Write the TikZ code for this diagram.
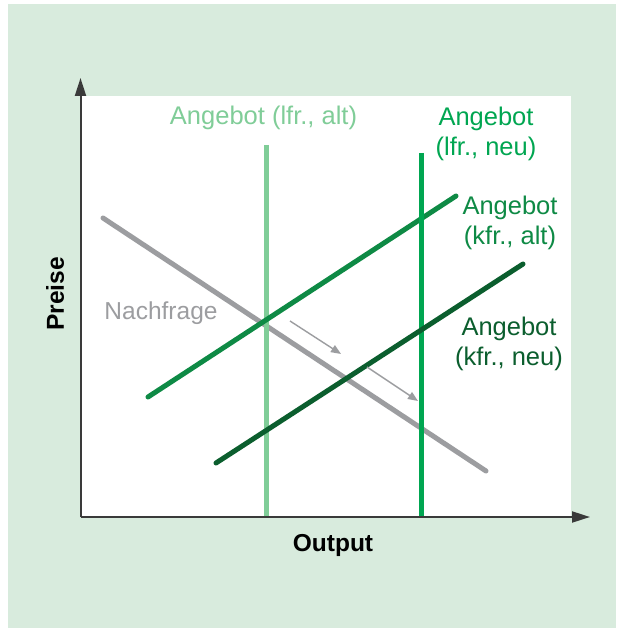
\documentclass[tikz,border=0pt]{standalone}
\usepackage{fontspec}
\setmainfont{Liberation Sans}
\usetikzlibrary{arrows.meta}
\definecolor{bggreen}{HTML}{D8EBDD}
\definecolor{lgreen}{HTML}{80CD98}
\definecolor{mgreen}{HTML}{00A651}
\definecolor{kgreen}{HTML}{0E8A45}
\definecolor{dgreen}{HTML}{0B5E2E}
\definecolor{demgray}{HTML}{9C9DA0}
\definecolor{axisgray}{HTML}{3A3A3A}
\tikzset{
  lbl/.style={font=\fontsize{25.5}{30}\selectfont, align=center, inner sep=0pt},
  nlbl/.style={font=\fontsize{24.5}{30}\selectfont, align=center, inner sep=0pt},
  axlbl/.style={font=\fontsize{24.5}{30}\selectfont\bfseries, inner sep=0pt, text=black},
  curve/.style={line width=5pt, line cap=round},
  vcurve/.style={line width=5pt},
  shiftarrow/.style={demgray, line width=1.4pt, -{Triangle[length=10pt,width=8pt]}},
  axisline/.style={axisgray, line width=2pt, -{Triangle[length=18pt,width=11pt]}}
}
\begin{document}
\begin{tikzpicture}[x=1pt,y=-1pt]
\useasboundingbox (0,0) rectangle (616,628);
\fill[bggreen] (8,4) rectangle (616,628);
\fill[white] (80,96) rectangle (571,517);
% coordinates
\coordinate (O) at (80.5,517);
\coordinate (ytop) at (80.5,78);
\coordinate (xend) at (590,517);
\coordinate (d1) at (103,218);
\coordinate (d2) at (486,471);
\coordinate (la1) at (266,145);
\coordinate (la2) at (266,517);
\coordinate (ln1) at (421,153);
\coordinate (ln2) at (421,517);
\coordinate (ka1) at (148,397);
\coordinate (ka2) at (456,196);
\coordinate (kn1) at (216,463);
\coordinate (kn2) at (523,264);
\coordinate (s1a) at (290,321);
\coordinate (s1b) at (341,354);
\coordinate (s2a) at (367,367);
\coordinate (s2b) at (418,401);
% curves
\draw[curve, demgray] (d1) -- (d2);
\draw[vcurve, lgreen] (la1) -- (la2);
\draw[curve, kgreen] (ka1) -- (ka2);
\draw[vcurve, mgreen] (ln1) -- (ln2);
\draw[curve, dgreen] (kn1) -- (kn2);
\draw[shiftarrow] (s1a) -- (s1b);
\draw[shiftarrow] (s2a) -- (s2b);
% axes
\draw[axisline] (O) -- (ytop);
\draw[axisline] (O) -- (xend);
% labels
\node[lbl, text=lgreen] (tla) at (263.5,118) {Angebot (lfr., alt)};
\node[lbl, text=mgreen] (tln) at (486,134) {Angebot\\(lfr., neu)};
\node[lbl, text=kgreen] (tka) at (510,223) {Angebot\\(kfr., alt)};
\node[lbl, text=dgreen] (tkn) at (509,344) {Angebot\\(kfr., neu)};
\node[nlbl, text=demgray] (tnf) at (161,313) {Nachfrage};
\node[axlbl, rotate=90] (tpr) at (55,294) {Preise};
\node[axlbl] (tout) at (333,545) {Output};
\end{tikzpicture}
\end{document}
